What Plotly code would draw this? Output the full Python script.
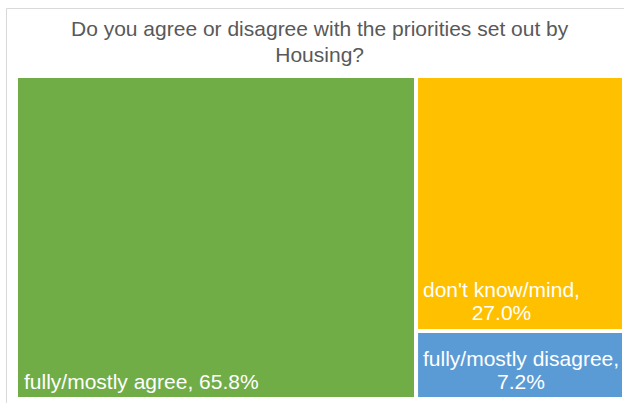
import plotly.graph_objects as go

# Survey responses (share of respondents, %)
categories = ["fully/mostly agree", "don't know/mind", "fully/mostly disagree"]
shares = [65.8, 27.0, 7.2]
colors = ["#70AD47", "#FFC000", "#5B9BD5"]

title_text = "Do you agree or disagree with the priorities set out by<br>Housing?"

W, H = 624, 403
# visible tile area in pixels (left, top, right, bottom)
TX0, TY0, TX1, TY1 = 18, 78, 622, 397
GAP = 4  # white separation between tiles


def px_x(x):
    return x / W


def px_y(y):
    return 1 - y / H


fig = go.Figure(
    go.Treemap(
        labels=categories,
        parents=[""] * len(categories),
        values=shares,
        sort=True,
        marker=dict(
            colors=colors,
            line=dict(color="white", width=GAP),
            pad=dict(t=0, l=0, r=0, b=0),
        ),
        textinfo="none",
        hoverinfo="label+value",
        pathbar=dict(visible=False),
        tiling=dict(packing="squarify", pad=0),
        domain=dict(
            x=[px_x(TX0 - GAP / 2), px_x(TX1 + GAP / 2)],
            y=[px_y(TY1 + GAP / 2), px_y(TY0 - GAP / 2)],
        ),
    )
)

# tile geometry derived from the shares (left column, then right column split)
total = sum(shares)
split_x = TX0 + (TX1 - TX0) * shares[0] / total
right_total = shares[1] + shares[2]
split_y = TY0 + (TY1 - TY0) * shares[1] / right_total

LABEL_FS = 21
LINE_FS = 17.7  # controls line spacing of two-line labels


def label(text):
    parts = text.split("<br>")
    return "<br>".join(f'<span style="font-size:{LABEL_FS}px">{p}</span>' for p in parts)


label_specs = [
    (f"{categories[0]}, {shares[0]:.1f}%", TX0, TY1),
    (f"{categories[1]},<br>{shares[1]:.1f}%", split_x + GAP / 2, split_y - GAP / 2),
    (f"{categories[2]},<br>{shares[2]:.1f}%", split_x + GAP / 2, TY1),
]

annotations = []
for text, x0, y1 in label_specs:
    annotations.append(
        dict(
            text=label(text),
            x=px_x(x0 + 5),
            y=px_y(y1 - 3),
            xref="paper",
            yref="paper",
            xanchor="left",
            yanchor="bottom",
            align="center",
            showarrow=False,
            borderpad=0,
            font=dict(family="Liberation Sans, Arial, sans-serif", size=LINE_FS, color="white"),
        )
    )

annotations.append(
    dict(
        text="<br>".join(f'<span style="font-size:21px">{p}</span>' for p in title_text.split("<br>")),
        x=px_x(320),
        y=px_y(16),
        xref="paper",
        yref="paper",
        xanchor="center",
        yanchor="top",
        align="center",
        showarrow=False,
        borderpad=0,
        font=dict(family="Liberation Sans, Arial, sans-serif", size=20, color="#595959"),
    )
)

fig.update_layout(
    width=W,
    height=H,
    margin=dict(l=0, r=0, t=0, b=0),
    paper_bgcolor="white",
    annotations=annotations,
    shapes=[
        dict(
            type="rect",
            xref="paper",
            yref="paper",
            x0=px_x(6.5),
            y0=px_y(8.5),
            x1=1.05,
            y1=-0.05,
            line=dict(color="#D9D9D9", width=1),
            fillcolor="rgba(0,0,0,0)",
            layer="below",
        )
    ],
)

fig.write_html("out.html")
